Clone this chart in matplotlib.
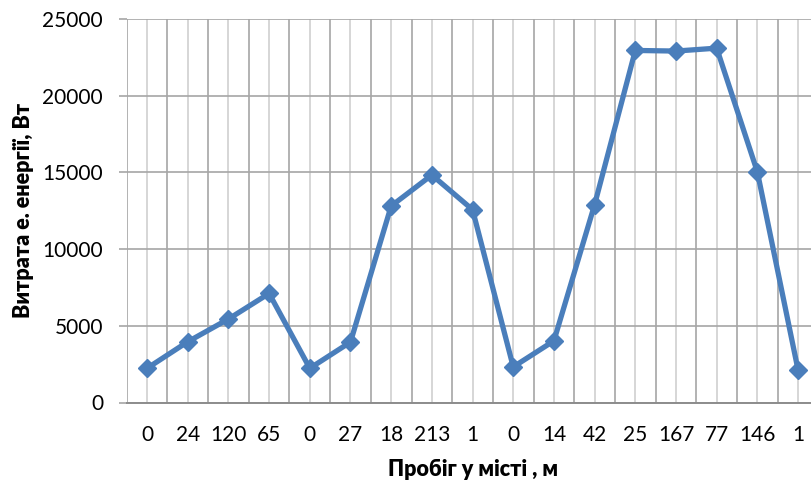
import matplotlib
matplotlib.use("Agg")
import matplotlib.pyplot as plt
import numpy as np

categories = ["0", "24", "120", "65", "0", "27", "18", "213", "1",
              "0", "14", "42", "25", "167", "77", "146", "1"]
values = [2230, 3960, 5440, 7110, 2230, 3940, 12810, 14830, 12570,
          2320, 4020, 12900, 22950, 22910, 23100, 15030, 2120]
y_ticks = [0, 5000, 10000, 15000, 20000, 25000]
x_label = "Пробіг у місті , м"
y_label = "Витрата е. енергії, Вт"

plt.rcParams['font.family'] = ['Lato', 'DejaVu Sans']

W, H = 811, 483
fig = plt.figure(figsize=(W / 100, H / 100), dpi=100)
left, right = 126.7, 818.4
top, bottom = 19.0, 402.5
ax = fig.add_axes([left / W, 1 - bottom / H, (right - left) / W, (bottom - top) / H])

n = len(categories)
x = np.arange(n)
ax.plot(x, values, color="#4A7EBB", linewidth=3.8, marker="D",
        markersize=9.5, markerfacecolor="#4A7EBB", markeredgecolor="#4A7EBB",
        zorder=5, clip_on=False)

ax.set_xlim(-0.5, n - 0.5)
ax.set_ylim(0, 25000)

ax.set_xticks(x)
ax.set_xticklabels(categories, fontsize=15)
ax.set_xticks(np.arange(n + 1) - 0.5, minor=True)
ax.set_yticks(y_ticks)
ax.set_yticklabels([str(v) for v in y_ticks], fontsize=15)

ax.tick_params(axis="x", which="both", length=0, pad=16)
ax.tick_params(axis="y", which="major", length=6, color="#A6A6A6", width=1.2, pad=11)

ax.grid(axis="x", which="major", color="#D0D0D0", linewidth=1.2)
ax.grid(axis="x", which="minor", color="#A6A6A6", linewidth=1.2)
ax.grid(axis="y", which="major", color="#A6A6A6", linewidth=1.2)
ax.set_axisbelow(True)

for s in ["left", "right", "top"]:
    ax.spines[s].set_visible(False)
ax.spines["bottom"].set_color("#8C8C8C")
ax.spines["bottom"].set_linewidth(1.4)

ax.set_xlabel(x_label, fontsize=15.5, fontweight="heavy", labelpad=10)
ax.set_ylabel(y_label, fontsize=15.5, fontweight="heavy", labelpad=6)

fig.savefig("out.png", dpi=100)
